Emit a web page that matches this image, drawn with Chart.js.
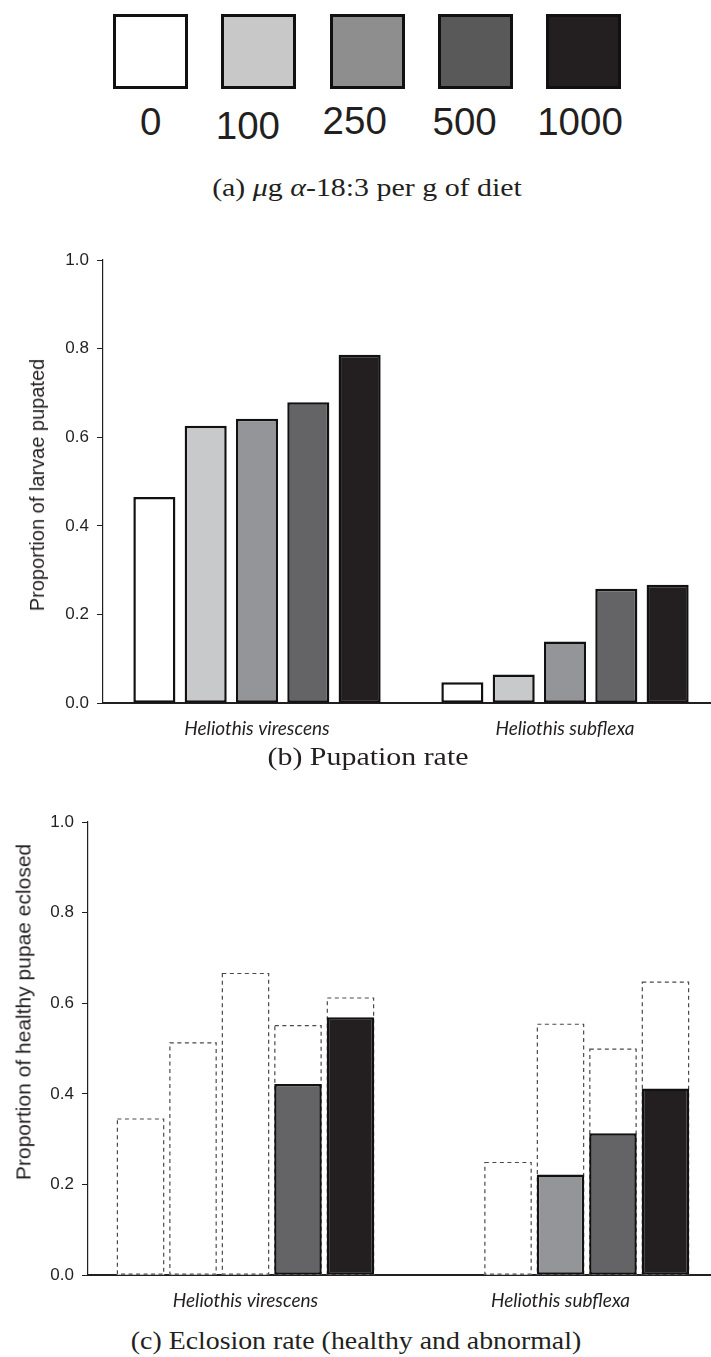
<!DOCTYPE html>
<html>
<head>
<meta charset="utf-8">
<script src="https://cdn.jsdelivr.net/npm/chart.js@4.4.1/dist/chart.umd.min.js"></script>
<style>
  html, body { margin: 0; padding: 0; background: #fff; }
  #page { position: relative; width: 711px; height: 1357px; overflow: hidden;
          font-family: "Liberation Sans", Arial, sans-serif; color: #231f20; }
  .box { position: absolute; top: 14px; width: 75px; height: 75px; box-sizing: border-box; border: 3px solid #111; }
  .dose { position: absolute; font-size: 38.5px; line-height: 1; white-space: nowrap; transform: translateX(-50%); }
  .caption { position: absolute; font-family: "Liberation Serif", serif; font-size: 26px; line-height: 30px;
             white-space: nowrap; transform: translateX(-50%) scaleX(1.15); }
  .ytitle { position: absolute; white-space: nowrap; line-height: 1; transform: translate(-50%, -50%) rotate(-90deg); }
  canvas { position: absolute; left: 0; }
</style>
</head>
<body>
<div id="page">
  <div id="legend"></div>
  <div class="caption" style="left:367px; top:173px">(a) <i>μ</i>g <i>α</i>-18:3 per g of diet</div>

  <canvas id="pupChart" width="719" height="514" style="top:240px"></canvas>
  <div class="ytitle" style="left:37px; top:485px; font-size:20px">Proportion of larvae pupated</div>
  <div class="caption" style="left:368px; top:742px">(b) Pupation rate</div>

  <canvas id="eclChart" width="718" height="524" style="top:802px"></canvas>
  <div class="ytitle" style="left:23px; top:1012px; font-size:21px">Proportion of healthy pupae eclosed</div>
  <div class="caption" style="left:356px; top:1326px; transform:translateX(-50%) scaleX(1.07)">(c) Eclosion rate (healthy and abnormal)</div>
</div>

<script>
// categories and doses
const species = ['Heliothis virescens', 'Heliothis subflexa'];
const doses = ['0', '100', '250', '500', '1000'];
const doseColors = ['#ffffff', '#c8c9cb', '#939598', '#646466', '#231f20'];
const legendColors = ['#ffffff', '#c8c8c8', '#8f8e8e', '#5a5959', '#231f20'];
const yTickLabels = ['0.0', '0.2', '0.4', '0.6', '0.8', '1.0'];

// (b) proportion of larvae pupated, [virescens, subflexa] per dose
const pupated0 = [0.465, 0.047];
const pupated100 = [0.626, 0.065];
const pupated250 = [0.642, 0.139];
const pupated500 = [0.679, 0.258];
const pupated1000 = [0.786, 0.267];

// (c) all eclosed (healthy + abnormal), dashed outline
const eclosedAll0 = [0.346, null];
const eclosedAll100 = [0.514, 0.250];
const eclosedAll250 = [0.667, 0.555];
const eclosedAll500 = [0.552, 0.500];
const eclosedAll1000 = [0.613, 0.648];

// (c) healthy eclosed, filled bars
const eclosedHealthy0 = [0, null];
const eclosedHealthy100 = [0, 0];
const eclosedHealthy250 = [0, 0.222];
const eclosedHealthy500 = [0.422, 0.313];
const eclosedHealthy1000 = [0.569, 0.412];

const ink = '#231f20';
const edge = '#111111';

// legend boxes (a)
const legendLeft = 113.3, legendPitch = 108.1;
const legendNudgeX = [0, -11, -12.3, -10.5, -3.2];
const legendNudgeY = [0, 3.4, -1.6, 0, 0];
const legend = document.getElementById('legend');
doses.forEach(function(d, k) {
    var box = document.createElement('div');
    box.className = 'box';
    box.style.left = (legendLeft + k * legendPitch) + 'px';
    box.style.background = legendColors[k];
    legend.appendChild(box);

    var lab = document.createElement('div');
    lab.className = 'dose';
    lab.textContent = d;
    lab.style.left = (legendLeft + k * legendPitch + 37.5 + legendNudgeX[k]) + 'px';
    lab.style.top = (103.3 + legendNudgeY[k]) + 'px';
    legend.appendChild(lab);
});

function yAxis(width) {
    return {
        min: 0,
        max: 1,
        ticks: {
            stepSize: 0.2,
            padding: 8,
            color: ink,
            font: { family: '"Liberation Sans", Arial, sans-serif', size: 17 },
            callback: function(v, i) { return yTickLabels[i]; }
        },
        grid: { display: true, drawOnChartArea: false, drawTicks: true, tickLength: 6, color: ink, lineWidth: 1 },
        border: { display: true, color: ink, width: 1.2 },
        afterFit: function(scale) { scale.width = width; } // fixed left margin
    };
}

function xAxis(stacked) {
    return {
        stacked: stacked,
        ticks: {
            padding: 14,
            color: ink,
            maxRotation: 0,
            autoSkip: false,
            font: { family: 'Lato, sans-serif', style: 'italic', size: 19 }
        },
        grid: { display: false, drawTicks: false },
        border: { display: true, color: ink, width: 2 }
    };
}

const baseOptions = {
    responsive: false,
    animation: false,
    devicePixelRatio: 1,
    layout: { padding: { top: 20, left: 0, right: 0, bottom: 0 } },
    plugins: { legend: { display: false }, tooltip: { enabled: false } }
};

// (b) pupation rate
const pupated = [pupated0, pupated100, pupated250, pupated500, pupated1000];
new Chart(document.getElementById('pupChart'), {
    type: 'bar',
    data: {
        labels: species,
        datasets: doses.map(function(d, k) {
            return {
                label: d,
                data: pupated[k],
                backgroundColor: doseColors[k],
                borderColor: edge,
                borderWidth: 2.5,
                borderSkipped: false,
                categoryPercentage: 0.833,
                barPercentage: 0.82
            };
        })
    },
    options: Object.assign({}, baseOptions, {
        scales: { x: xAxis(false), y: yAxis(103) }
    })
});

// dashed outline for the "all eclosed" bars
const dashedBars = {
    id: 'dashedBars',
    afterDatasetDraw: function(chart, args) {
        var ds = chart.data.datasets[args.index];
        if (!ds.dashed) return;
        var ctx = chart.ctx;
        ctx.save();
        ctx.setLineDash([4, 3.5]);
        ctx.strokeStyle = '#4a4a4a';
        ctx.lineWidth = 1.2;
        args.meta.data.forEach(function(bar, i) {
            if (ds.data[i] === null) return;
            var p = bar.getProps(['x', 'y', 'base', 'width'], true);
            ctx.strokeRect(p.x - p.width / 2 + 0.6, p.y + 0.6, p.width - 1.2, p.base - p.y - 1.2);
        });
        ctx.restore();
    }
};

// (c) eclosion rate
const eclosedAll = [eclosedAll0, eclosedAll100, eclosedAll250, eclosedAll500, eclosedAll1000];
const eclosedHealthy = [eclosedHealthy0, eclosedHealthy100, eclosedHealthy250, eclosedHealthy500, eclosedHealthy1000];

const healthySets = doses.map(function(d, k) {
    return {
        label: d + ' healthy',
        data: eclosedHealthy[k],
        stack: 'dose' + k,
        order: 0,
        backgroundColor: doseColors[k],
        borderColor: edge,
        borderWidth: 2.5,
        borderSkipped: false,
        categoryPercentage: 0.833,
        barPercentage: 0.905
    };
});
const allSets = doses.map(function(d, k) {
    return {
        label: d + ' all',
        data: eclosedAll[k],
        stack: 'dose' + k,
        order: 1,
        dashed: true,
        backgroundColor: '#ffffff',
        borderWidth: 0,
        categoryPercentage: 0.833,
        barPercentage: 0.905
    };
});

new Chart(document.getElementById('eclChart'), {
    type: 'bar',
    data: { labels: species, datasets: healthySets.concat(allSets) },
    options: Object.assign({}, baseOptions, {
        scales: { x: xAxis(true), y: Object.assign(yAxis(88), { stacked: false }) }
    }),
    plugins: [dashedBars]
});
</script>
</body>
</html>
